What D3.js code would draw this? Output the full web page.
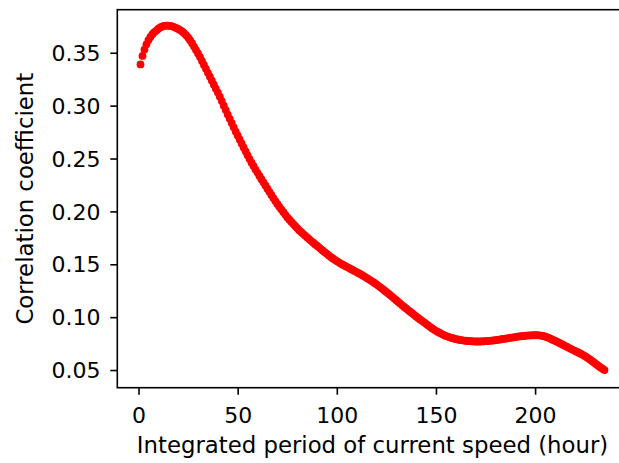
<!DOCTYPE html>
<html><head><meta charset="utf-8">
<script src="https://cdn.jsdelivr.net/npm/d3@7"></script>
<style>html,body{margin:0;padding:0;background:#fff;overflow:hidden;} svg{display:block;}</style>
</head><body>
<svg id="chart" width="619" height="463"></svg>
<script>
// Integrated period (hours)
const hours = [
  1,2,3,4,5,6,7,8,9,10, 11,12,13,14,15,16,17,18,19,20,
  21,22,23,24,25,26,27,28,29,30, 31,32,33,34,35,36,37,38,39,40,
  41,42,43,44,45,46,47,48,49,50, 51,52,53,54,55,56,57,58,59,60,
  61,62,63,64,65,66,67,68,69,70, 71,72,73,74,75,76,77,78,79,80,
  81,82,83,84,85,86,87,88,89,90, 91,92,93,94,95,96,97,98,99,100,
  101,102,103,104,105,106,107,108,109,110, 111,112,113,114,115,116,117,118,119,120,
  121,122,123,124,125,126,127,128,129,130, 131,132,133,134,135,136,137,138,139,140,
  141,142,143,144,145,146,147,148,149,150, 151,152,153,154,155,156,157,158,159,160,
  161,162,163,164,165,166,167,168,169,170, 171,172,173,174,175,176,177,178,179,180,
  181,182,183,184,185,186,187,188,189,190, 191,192,193,194,195,196,197,198,199,200,
  201,202,203,204,205,206,207,208,209,210, 211,212,213,214,215,216,217,218,219,220,
  221,222,223,224,225,226,227,228,229,230, 231,232,233,234,235];
// Correlation coefficient
const correlation = [
  0.339,0.347,0.353,0.358,0.362,0.365,0.3675,0.3695,0.371,0.3727,
  0.374,0.3749,0.3755,0.3757,0.3756,0.3754,0.375,0.3743,0.3735,0.3725,
  0.3714,0.3701,0.3685,0.3666,0.3645,0.3619,0.359,0.3558,0.3525,0.3493,
  0.346,0.3423,0.3385,0.3348,0.331,0.3273,0.3235,0.3198,0.316,0.3123,
  0.3085,0.3043,0.300,0.2958,0.2915,0.2875,0.2835,0.2795,0.2755,0.2718,
  0.268,0.2643,0.2605,0.2568,0.253,0.2495,0.246,0.2428,0.2395,0.2365,
  0.2335,0.2305,0.2275,0.2245,0.2215,0.2185,0.2155,0.2126,0.2098,0.2071,
  0.2045,0.202,0.1995,0.197,0.1945,0.1924,0.1903,0.1882,0.1862,0.1842,
  0.1822,0.1805,0.1788,0.1771,0.1755,0.1738,0.1722,0.1706,0.169,0.1675,
  0.166,0.1644,0.1628,0.1613,0.1598,0.1583,0.1568,0.1555,0.1542,0.153,
  0.1518,0.1507,0.1496,0.1486,0.1476,0.1466,0.1456,0.1446,0.1436,0.1426,
  0.1416,0.1406,0.1395,0.1384,0.1372,0.136,0.1348,0.1336,0.1323,0.131,
  0.1296,0.1282,0.1268,0.1253,0.1238,0.1223,0.1208,0.1192,0.1176,0.116,
  0.1144,0.1128,0.1112,0.1097,0.1082,0.1067,0.1052,0.1037,0.1022,0.1007,
  0.0993,0.0979,0.0965,0.0951,0.0937,0.0923,0.0909,0.0896,0.0883,0.0871,
  0.086,0.085,0.084,0.0831,0.0823,0.0816,0.0809,0.0803,0.0798,0.0793,
  0.0789,0.0785,0.0782,0.0779,0.0777,0.0775,0.0773,0.0772,0.0771,0.077,
  0.077,0.077,0.0771,0.0772,0.0773,0.0774,0.0776,0.0778,0.078,0.0782,
  0.0785,0.0788,0.0791,0.0794,0.0797,0.08,0.0803,0.0806,0.0809,0.0812,
  0.0815,0.0818,0.082,0.0822,0.0824,0.0826,0.0827,0.0828,0.0829,0.0829,
  0.0829,0.0828,0.0826,0.0823,0.0818,0.0811,0.0803,0.0794,0.0785,0.0777,
  0.0768,0.0759,0.0749,0.0739,0.0729,0.072,0.071,0.0701,0.0691,0.0682,
  0.0673,0.0664,0.0654,0.0644,0.0633,0.0621,0.0608,0.0595,0.0581,0.0567,
  0.0553,0.0539,0.0525,0.0512,0.05];
const xTicks = [0, 50, 100, 150, 200];
const yTicks = [0.05, 0.10, 0.15, 0.20, 0.25, 0.30, 0.35];
const xLabel = "Integrated period of current speed (hour)";
const yLabel = "Correlation coefficient";

(function () {
const W = 619, H = 463;
const mLeft = 117.3, mRight = 627.7, mTop = 9.7, mBottom = 387.7;
const FONT = "'DejaVu Sans', sans-serif";

const x = d3.scaleLinear().domain([-10.7, 246.7]).range([mLeft, mRight]);
const y = d3.scaleLinear().domain([0.0333, 0.3907]).range([mBottom, mTop]);

const svg = d3.select("#chart");
svg.append("rect").attr("width", W).attr("height", H).attr("fill", "#fff");

const data = hours.map((h, i) => ({h, v: correlation[i]}));

// points
svg.append("g").selectAll("circle").data(data).join("circle")
  .attr("cx", d => x(d.h)).attr("cy", d => y(d.v))
  .attr("r", 3.9).attr("fill", "#ff0000");

// frame
svg.append("rect")
  .attr("x", mLeft).attr("y", mTop)
  .attr("width", mRight - mLeft).attr("height", mBottom - mTop)
  .attr("fill", "none").attr("stroke", "#000").attr("stroke-width", 1.6);

// x axis
const gx = svg.append("g").attr("transform", `translate(0,${mBottom})`)
  .call(d3.axisBottom(x).tickValues(xTicks).tickFormat(d3.format("d")).tickSize(7));
gx.select(".domain").remove();
gx.selectAll(".tick line").attr("stroke", "#000").attr("stroke-width", 1.6);
gx.selectAll(".tick text").attr("y", 35.6).attr("dy", 0)
  .attr("font-family", FONT).attr("font-size", 22).attr("fill", "#000");

// y axis
const gy = svg.append("g").attr("transform", `translate(${mLeft},0)`)
  .call(d3.axisLeft(y).tickValues(yTicks).tickFormat(d3.format(".2f")).tickSize(7));
gy.select(".domain").remove();
gy.selectAll(".tick line").attr("stroke", "#000").attr("stroke-width", 1.6);
gy.selectAll(".tick text").attr("x", -16.8).attr("dy", 7.6)
  .attr("font-family", FONT).attr("font-size", 22).attr("fill", "#000");

// axis labels
svg.append("text").attr("x", (mLeft + mRight) / 2).attr("y", 453)
  .attr("text-anchor", "middle").attr("font-family", FONT).attr("font-size", 22.8)
  .attr("fill", "#000").text(xLabel);
svg.append("text")
  .attr("transform", `translate(33,${(mTop + mBottom) / 2}) rotate(-90)`)
  .attr("text-anchor", "middle").attr("font-family", FONT).attr("font-size", 22.8)
  .attr("fill", "#000").text(yLabel);
})();
</script>
</body></html>
